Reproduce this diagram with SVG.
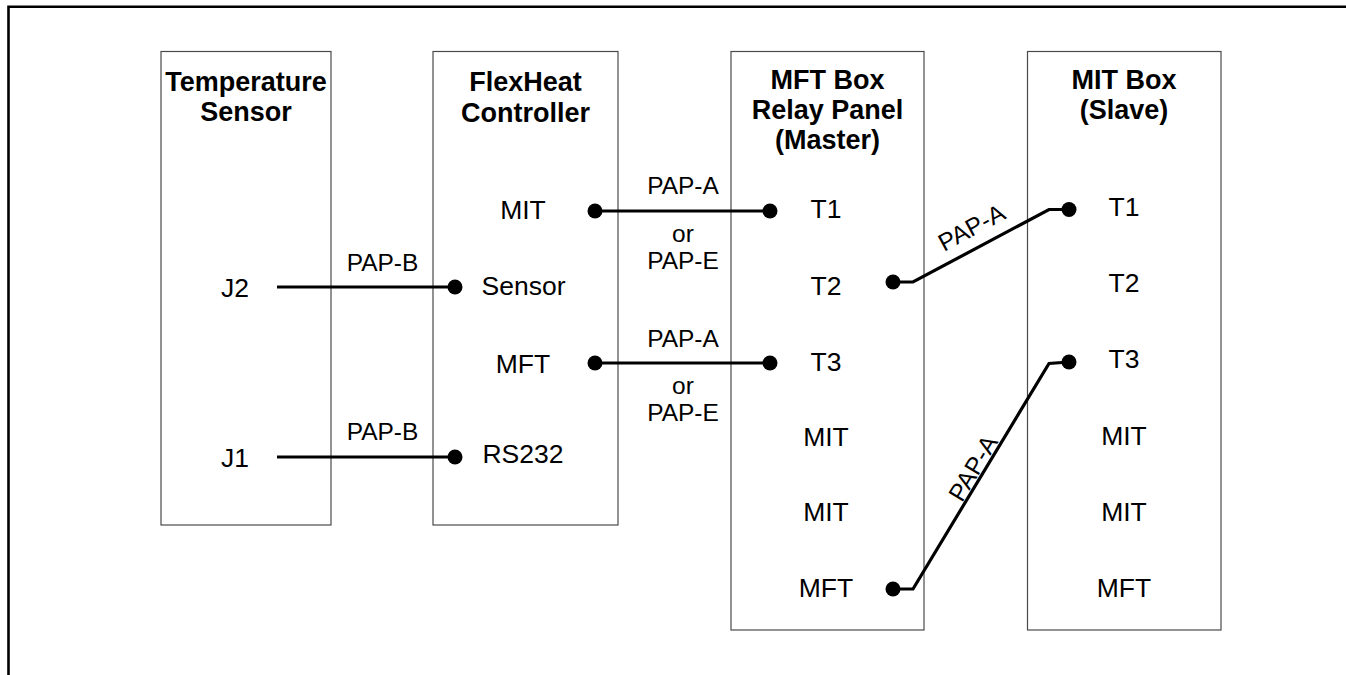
<svg xmlns="http://www.w3.org/2000/svg" width="1346" height="675" viewBox="0 0 1346 675">
  <style>
    .frame { fill: none; stroke: #000; stroke-width: 2.6; }
    .box { fill: #fff; stroke: #4a4a4a; stroke-width: 1.2; }
    .title { font-family: "Liberation Sans", Arial, sans-serif; font-weight: bold; font-size: 27px; text-anchor: middle; fill: #000; }
    .port { font-family: "Liberation Sans", Arial, sans-serif; font-size: 26.5px; text-anchor: middle; fill: #000; }
    .wl { font-family: "Liberation Sans", Arial, sans-serif; font-size: 24.5px; text-anchor: middle; fill: #000; }
    .wire { fill: none; stroke: #000; stroke-width: 3.2; stroke-linejoin: miter; }
    .dot { fill: #000; }
  </style>

  <rect width="1346" height="675" fill="#fff"/>

  <!-- page frame: top and left rules -->
  <polyline class="frame" points="8.5,675 8.5,6.8 1346,6.8"/>

  <g id="temperature-sensor">
    <rect class="box" x="161" y="51.5" width="170" height="473.5"/>
    <text class="title" x="246" y="90.5">Temperature</text>
    <text class="title" x="246" y="121">Sensor</text>
    <text class="port" x="235" y="297">J2</text>
    <text class="port" x="235" y="466.5">J1</text>
  </g>

  <g id="flexheat-controller">
    <rect class="box" x="433" y="51.5" width="185" height="473.5"/>
    <text class="title" x="525.5" y="91">FlexHeat</text>
    <text class="title" x="525.5" y="121.5">Controller</text>
    <text class="port" x="523" y="219">MIT</text>
    <text class="port" x="523.5" y="295">Sensor</text>
    <text class="port" x="523" y="372.5">MFT</text>
    <text class="port" x="523" y="462.5">RS232</text>
  </g>

  <g id="mft-box">
    <rect class="box" x="731" y="51.5" width="193" height="578.5"/>
    <text class="title" x="827.5" y="89">MFT Box</text>
    <text class="title" x="827.5" y="119">Relay Panel</text>
    <text class="title" x="827.5" y="149">(Master)</text>
    <text class="port" x="826" y="218">T1</text>
    <text class="port" x="826" y="295">T2</text>
    <text class="port" x="826" y="371">T3</text>
    <text class="port" x="826" y="446">MIT</text>
    <text class="port" x="826" y="521">MIT</text>
    <text class="port" x="826" y="597">MFT</text>
  </g>

  <g id="mit-box">
    <rect class="box" x="1027.5" y="51.5" width="193.5" height="578.5"/>
    <text class="title" x="1124" y="88.5">MIT Box</text>
    <text class="title" x="1124" y="118.5">(Slave)</text>
    <text class="port" x="1124" y="216">T1</text>
    <text class="port" x="1124" y="292">T2</text>
    <text class="port" x="1124" y="368">T3</text>
    <text class="port" x="1124" y="445">MIT</text>
    <text class="port" x="1124" y="520.5">MIT</text>
    <text class="port" x="1124" y="596.5">MFT</text>
  </g>

  <g id="connectors">
    <!-- sensor to controller cables -->
    <line class="wire" x1="277" y1="287" x2="455" y2="287"/>
    <circle class="dot" cx="455" cy="287" r="7.5"/>
    <text class="wl" x="382.5" y="270.5">PAP-B</text>

    <line class="wire" x1="277" y1="457" x2="455" y2="457"/>
    <circle class="dot" cx="455" cy="457" r="7.5"/>
    <text class="wl" x="382.5" y="440">PAP-B</text>

    <!-- controller to master relay panel -->
    <line class="wire" x1="595" y1="211" x2="770" y2="211"/>
    <circle class="dot" cx="595" cy="211" r="7.5"/>
    <circle class="dot" cx="770" cy="211" r="7.5"/>
    <text class="wl" x="683" y="194">PAP-A</text>
    <text class="wl" x="683" y="241.5">or</text>
    <text class="wl" x="683" y="269">PAP-E</text>

    <line class="wire" x1="595" y1="363" x2="770" y2="363"/>
    <circle class="dot" cx="595" cy="363" r="7.5"/>
    <circle class="dot" cx="770" cy="363" r="7.5"/>
    <text class="wl" x="683" y="346.5">PAP-A</text>
    <text class="wl" x="683" y="393.5">or</text>
    <text class="wl" x="683" y="420.5">PAP-E</text>

    <!-- master to slave -->
    <polyline class="wire" points="893,282 913,282 1049,209.5 1069,209.5"/>
    <circle class="dot" cx="893" cy="282" r="7.5"/>
    <circle class="dot" cx="1069" cy="209.5" r="7.5"/>
    <text class="wl" transform="translate(971.5,227.5) rotate(-28.2)" x="0" y="8.5">PAP-A</text>

    <polyline class="wire" points="893,589 913,589 1049,363.5 1069,362"/>
    <circle class="dot" cx="893" cy="589" r="7.5"/>
    <circle class="dot" cx="1069" cy="362" r="7.5"/>
    <text class="wl" transform="translate(973,468) rotate(-59.1)" x="0" y="8.5">PAP-A</text>
  </g>
</svg>
